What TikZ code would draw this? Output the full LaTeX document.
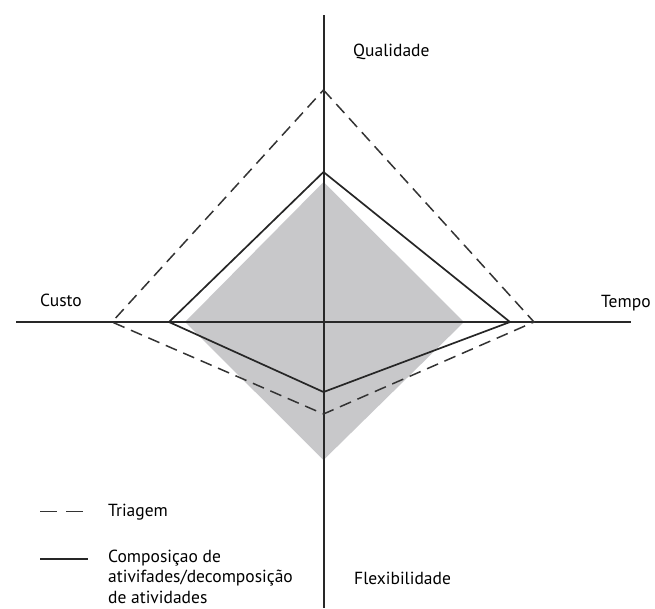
\documentclass[tikz,border=0pt]{standalone}
\usepackage{fontspec}
\setmainfont{PT Sans}
\usepackage{tikz}
\usetikzlibrary{positioning,calc}
\definecolor{areagray}{RGB}{200,200,202}
\definecolor{axisgray}{RGB}{40,40,40}
\tikzset{
    axis style/.style={axisgray,line width=2pt},
    solid profile/.style={black!85,line width=1.7pt,line join=miter},
    dashed profile/.style={black!80,line width=1.5pt,dash pattern=on 12pt off 7pt},
    area fill/.style={fill=areagray,draw=none},
    axis label/.style={anchor=base west,inner sep=0pt},
    legend text/.style={anchor=base west,inner sep=0pt,align=left},
}
\tikzstyle{every node}=[font=\fontsize{17.5}{20.2}\selectfont]

\begin{document}
\begin{tikzpicture}[x=1pt,y=-1pt]
        \useasboundingbox (0,0) rectangle (655,608);
        % axes
        \coordinate (axtop) at (323.5,15);
        \coordinate (axbot) at (323.5,608);
        \coordinate (axleft) at (16,322);
        \coordinate (axright) at (631,322);
        % grey area
        \coordinate (gq) at (323.5,182);
        \coordinate (gt) at (464,322);
        \coordinate (gf) at (323.5,460);
        \coordinate (gc) at (185,322);
        \fill[area fill] (gq) -- (gt) -- (gf) -- (gc) -- cycle;
        \draw[axis style] (axtop) -- (axbot);
        \draw[axis style] (axleft) -- (axright);
        % profiles
        \coordinate (sq) at (323.5,172);
        \coordinate (st) at (510,322);
        \coordinate (sf) at (323.5,392);
        \coordinate (sc) at (169,322);
        \draw[solid profile] (sq) -- (st) -- (sf) -- (sc) -- cycle;
        \coordinate (dq) at (323.5,90);
        \coordinate (dt) at (534,322);
        \coordinate (df) at (323.5,414);
        \coordinate (dc) at (112,322);
        \draw[dashed profile] (dq) -- (dt) -- (df) -- (dc) -- cycle;
        % labels
        \node[axis label] (qualidade) at (353,56) {Qualidade};
        \node[axis label] (custo) at (40,306) {Custo};
        \node[axis label] (tempo) at (601,307) {Tempo};
        \node[axis label] (flex) at (354,584) {Flexibilidade};
        % legend
        \coordinate (ldash a) at (40,511.5);
        \coordinate (ldash b) at (84,511.5);
        \draw[dashed profile,dash pattern=on 17pt off 9pt] (ldash a) -- (ldash b);
        \node[legend text] (triagem) at (108,516) {Triagem};
        \coordinate (lsolid a) at (40,559);
        \coordinate (lsolid b) at (88,559);
        \draw[solid profile] (lsolid a) -- (lsolid b);
        \node[legend text] (composicao) at (108,603) {Composiçao de\\ativifades/decomposição\\de atividades};
    \end{tikzpicture}
\end{document}
